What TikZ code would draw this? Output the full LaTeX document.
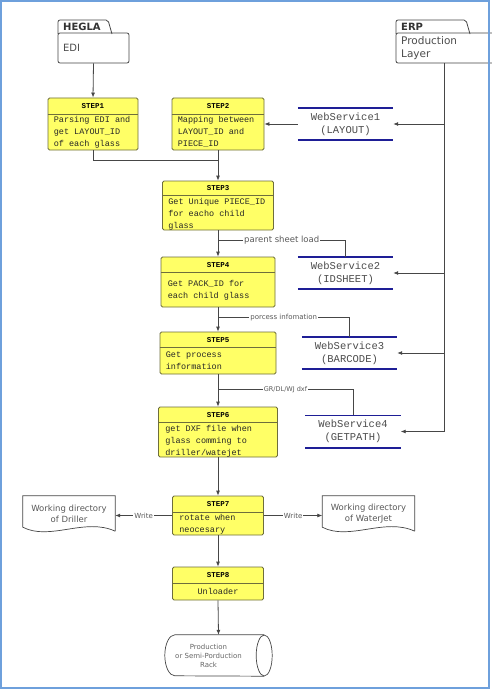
\documentclass[tikz,border=0pt]{standalone}
\usepackage{fontspec}
\setmainfont{DejaVu Sans}
\setmonofont{Liberation Mono}
\usepackage{tikz}
\usetikzlibrary{shapes,arrows,positioning,calc,arrows.meta,shapes.geometric}

\definecolor{stepyellow}{RGB}{255,255,102}
\definecolor{stepedge}{RGB}{110,110,60}
\definecolor{wsblue}{RGB}{30,30,150}
\definecolor{frameblue}{RGB}{110,160,220}
\definecolor{linegray}{RGB}{70,70,70}

\tikzset{
  stepbox/.style={draw=stepedge, fill=stepyellow, line width=0.8pt, rounded corners=1.5pt, inner sep=0pt},
  steptitle/.style={font=\ttfamily\bfseries\fontsize{7.5}{9}\selectfont, inner sep=0pt},
  stepbody/.style={font=\ttfamily\fontsize{8.5}{11.7}\selectfont, align=left, inner sep=0pt, anchor=north west, text=black!85},
  wsnode/.style={minimum width=95pt, minimum height=32pt, inner sep=0pt, align=center, font=\ttfamily\fontsize{10.5}{13}\selectfont, text=black!70},
  wsedge/.style={draw=wsblue, line width=1.6pt},
  conn/.style={draw=linegray, line width=0.8pt},
  arr/.style={conn, -{Latex[length=5pt,width=4pt]}},
  lbl/.style={fill=white, inner sep=1pt, text=black!65},
  docnode/.style={minimum width=92pt, minimum height=35pt, inner sep=0pt, align=center, font=\fontsize{8.5}{11}\selectfont, text=black!65},
}

\begin{document}
\begin{tikzpicture}[x=1pt, y=-1pt]
\useasboundingbox (0,0) rectangle (491,690);
\fill[white] (0,0) rectangle (491,690);

% source systems
\draw[conn, rounded corners=2pt] (58,34) -- (58,20) -- (108,20) -- (112,34);
\node[draw=linegray, line width=0.8pt, rounded corners=2pt, minimum width=71pt, minimum height=30pt,
      inner xsep=5pt, text width=61pt, align=left, font=\fontsize{10}{12}\selectfont, text=black!70] (hegla) at (93.5,48) {EDI};
\node[font=\bfseries\fontsize{10}{12}\selectfont, anchor=west, inner sep=0pt, text=black!80] (heglatab) at (63,27) {HEGLA};

\draw[conn, rounded corners=2pt] (396,34) -- (396,20) -- (466,20) -- (470,34);
\draw[conn, rounded corners=2pt] (492,33) -- (396,33) -- (396,63) -- (492,63);
\node[font=\bfseries\fontsize{10}{12}\selectfont, anchor=west, inner sep=0pt, text=black!80] (erptab) at (401,27) {ERP};
\node[font=\fontsize{10.5}{13}\selectfont, align=left, anchor=north west, inner sep=0pt, text=black!70] (erp) at (401,36) {Production\\Layer};
\coordinate (erpout) at (444,63);

% steps
\node[stepbox, minimum width=90pt, minimum height=52pt] (step1) at (93,124) {};
\node[stepbox, minimum width=92pt, minimum height=52pt] (step2) at (218,124) {};
\node[stepbox, minimum width=111pt, minimum height=49pt] (step3) at (218,205.5) {};
\node[stepbox, minimum width=114pt, minimum height=50pt] (step4) at (218,282) {};
\node[stepbox, minimum width=116pt, minimum height=42pt] (step5) at (218,353) {};
\node[stepbox, minimum width=119pt, minimum height=50pt] (step6) at (218,432) {};
\node[stepbox, minimum width=91pt, minimum height=39pt] (step7) at (218,515.5) {};
\node[stepbox, minimum width=91pt, minimum height=33pt] (step8) at (218,583.5) {};

\foreach \s/\h in {step1/17,step2/17,step3/15,step4/16,step5/16,step6/16,step7/17,step8/17}
  \draw[draw=stepedge, line width=0.7pt] ([yshift=-\h pt]\s.north west) -- ([yshift=-\h pt]\s.north east);

\foreach \s/\t/\h in {step1/STEP1/8.5,step2/STEP2/8.5,step3/STEP3/7.5,step4/STEP4/8,step5/STEP5/8,step6/STEP6/8,step7/STEP7/8.5,step8/STEP8/8.5}
  \node[steptitle] (\s t) at ([yshift=-\h pt]\s.north) {\t};

\node[stepbody] (step1b) at ([shift={(6pt,-19pt)}]step1.north west) {Parsing EDI and\\get LAYOUT\_ID\\of each glass};
\node[stepbody] (step2b) at ([shift={(6pt,-19pt)}]step2.north west) {Mapping between\\LAYOUT\_ID and\\PIECE\_ID};
\node[stepbody] (step3b) at ([shift={(6pt,-18pt)}]step3.north west) {Get Unique PIECE\_ID\\for eacho child\\glass};
\node[stepbody] (step4b) at ([shift={(7pt,-24pt)}]step4.north west) {Get PACK\_ID for\\each child glass};
\node[stepbody] (step5b) at ([shift={(6pt,-20pt)}]step5.north west) {Get process\\information};
\node[stepbody] (step6b) at ([shift={(7pt,-19pt)}]step6.north west) {get DXF file when\\glass comming to\\driller/watejet};
\node[stepbody] (step7b) at ([shift={(7pt,-19pt)}]step7.north west) {rotate when\\neocesary};
\node[stepbody, anchor=north] (step8b) at ([yshift=-22pt]step8.north) {Unloader};

% web services
\node[wsnode] (ws1) at (345.5,124) {WebService1\\(LAYOUT)};
\node[wsnode] (ws2) at (345.5,273) {WebService2\\(IDSHEET)};
\node[wsnode] (ws3) at (349.5,353) {WebService3\\(BARCODE)};
\node[wsnode] (ws4) at (353,431.5) {WebService4\\(GETPATH)};
\foreach \w in {ws1,ws2,ws3,ws4} {
  \draw[wsedge] (\w.north west) -- (\w.north east);
  \draw[wsedge] (\w.south west) -- (\w.south east);
}

% working directories and rack
\node[docnode] (drill) at (69,513.5) {Working directory\\of Driller};
\node[docnode] (wj) at (368.5,513.5) {Working directory\\of WaterJet};
\foreach \d in {drill,wj}
  \draw[conn, line width=0.7pt] (\d.south east) -- (\d.north east) -- (\d.north west) -- ([yshift=4pt]\d.south west)
    .. controls ([shift={(27pt,-10pt)}]\d.south west) and ([shift={(-30pt,14pt)}]\d.south east) .. (\d.south east);

\node[minimum width=107pt, minimum height=41pt, inner sep=0pt, inner xsep=0pt,
      align=center, font=\fontsize{7}{9}\selectfont, text=black!60] (rack) at (218.5,655.5) {};
\node[align=center, font=\fontsize{7}{9}\selectfont, text=black!60, inner sep=0pt] (racktext) at ([xshift=-10pt]rack.center) {Production\\or Semi-Porduction\\Rack};
\draw[conn, line width=0.7pt] ([xshift=-8pt]rack.north east) -- ([xshift=10pt]rack.north west)
  arc[start angle=90, end angle=270, x radius=10pt, y radius=20.5pt] -- ([xshift=-8pt]rack.south east);
\draw[conn, line width=0.7pt] ([xshift=-8pt]rack.east) ellipse [x radius=8pt, y radius=20.5pt];

% connectors
\draw[arr] (hegla.south) -- (step1.north);
\draw[conn] (step1.south) |- ([yshift=-10pt]step2.south);
\draw[arr] (step2.south) -- (step3.north);
\draw[arr] (ws1.west) -- (step2.east);
\draw[arr] (step3.south) -- (step4.north);
\draw[arr] (step4.south) -- (step5.north);
\draw[arr] (step5.south) -- (step6.north);
\draw[arr] (step6.south) -- (step7.north);
\draw[arr] (step7.south) -- (step8.north);
\draw[arr] (step8.south) -- (rack.north);

\draw[conn] ($(step3.south)!0.37!(step4.north)$) -| (ws2.north)
  node[lbl, pos=0.25, font=\fontsize{8.5}{10}\selectfont] {parent sheet load};
\draw[conn] ($(step4.south)!0.4!(step5.north)$) -| (ws3.north)
  node[lbl, pos=0.25, font=\fontsize{7}{8}\selectfont] {porcess infomation};
\draw[conn] ($(step5.south)!0.48!(step6.north)$) -| (ws4.north)
  node[lbl, pos=0.25, font=\fontsize{6.5}{8}\selectfont] {GR/DL/WJ dxf};

\draw[arr] (erpout) |- (ws4.east);
\foreach \w in {ws1,ws2,ws3}
  \draw[arr] (\w.east -| erpout) -- (\w.east);

\draw[arr] (step7.west) -- (step7.west -| drill.east) node[lbl, midway, font=\fontsize{7}{8}\selectfont] {Write};
\draw[arr] (step7.east) -- (step7.east -| wj.west) node[lbl, midway, font=\fontsize{7}{8}\selectfont] {Write};

% frame
\draw[frameblue, line width=2pt] (1,1) rectangle (489,688);
\end{tikzpicture}
\end{document}
